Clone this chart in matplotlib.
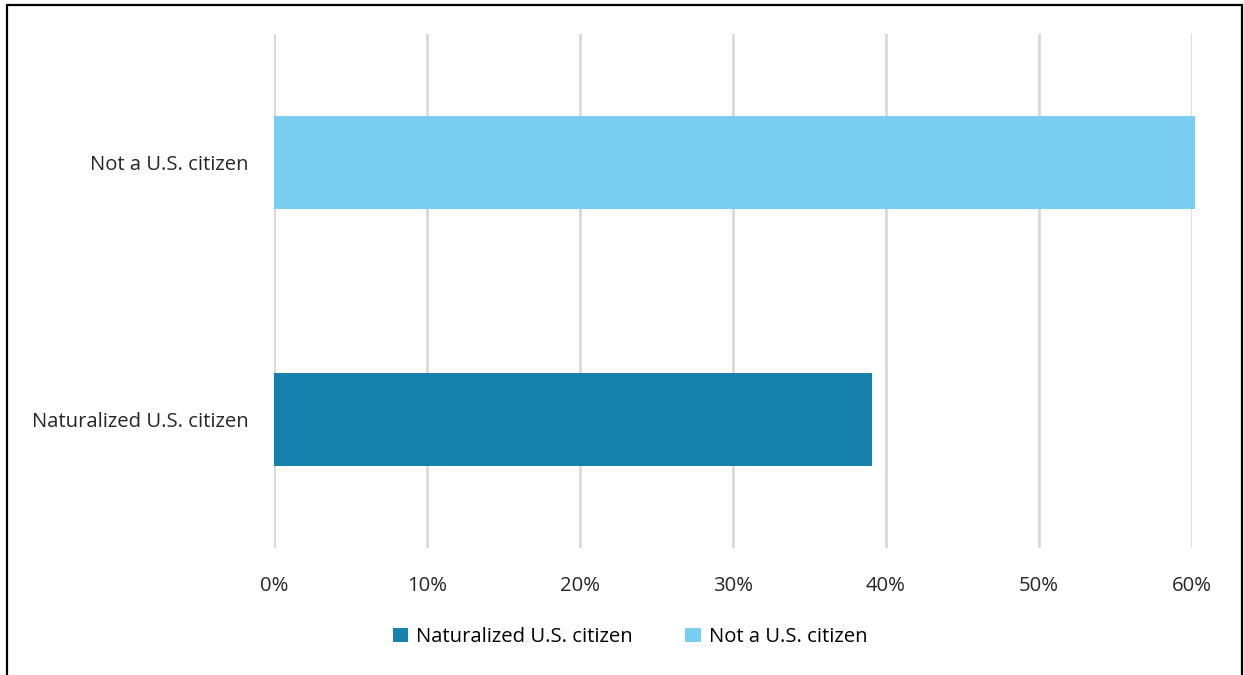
import matplotlib
matplotlib.use("Agg")
import matplotlib.pyplot as plt
from matplotlib.patches import Rectangle, Patch
from matplotlib.ticker import FuncFormatter

categories = ["Naturalized U.S. citizen", "Not a U.S. citizen"]
values = [39.1, 60.2]
colors = ["#1781AE", "#78CDF0"]
xticks = [0, 10, 20, 30, 40, 50, 60]

plt.rcParams['font.family'] = ['Open Sans', 'DejaVu Sans']

W, H = 1244, 675
FS = 14.6
fig = plt.figure(figsize=(W / 100, H / 100), dpi=100)
ax = fig.add_axes([274 / W, 1 - 548 / H, (1192 - 274) / W, (548 - 34) / H])

ypos = list(range(len(categories)))
bars = ax.barh(ypos, values, height=0.36, color=colors, zorder=3)
for b in bars:
    b.set_clip_on(False)
ax.set_xlim(0, 60)
ax.set_ylim(-0.5, 1.5)
ax.set_yticks(ypos)
ax.set_yticklabels(categories, fontsize=FS, color="#262626")
ax.set_xticks(xticks)
ax.xaxis.set_major_formatter(FuncFormatter(lambda v, p: f"{v:.0f}%"))
ax.tick_params(axis='x', labelsize=FS, length=0, pad=20)
ax.tick_params(axis='y', length=0, pad=18)
for lbl in ax.get_xticklabels():
    lbl.set_color("#262626")
ax.grid(axis='x', color="#D9D9D9", linewidth=2, zorder=0)
for s in ax.spines.values():
    s.set_visible(False)

handles = [Patch(facecolor=c, edgecolor='none') for c in colors]
fig.legend(handles, categories, loc='center', bbox_to_anchor=(630 / W, 1 - 637 / H),
           ncol=2, frameon=False, fontsize=FS, handlelength=0.75, handleheight=0.75,
           handletextpad=0.4, columnspacing=2.6)

fig.patches.append(Rectangle((7 / W, -0.05), (1242 - 7) / W, 1.05 - 5 / H,
                             transform=fig.transFigure, fill=False,
                             edgecolor="black", linewidth=1.6))

fig.savefig("out.png", dpi=100)
